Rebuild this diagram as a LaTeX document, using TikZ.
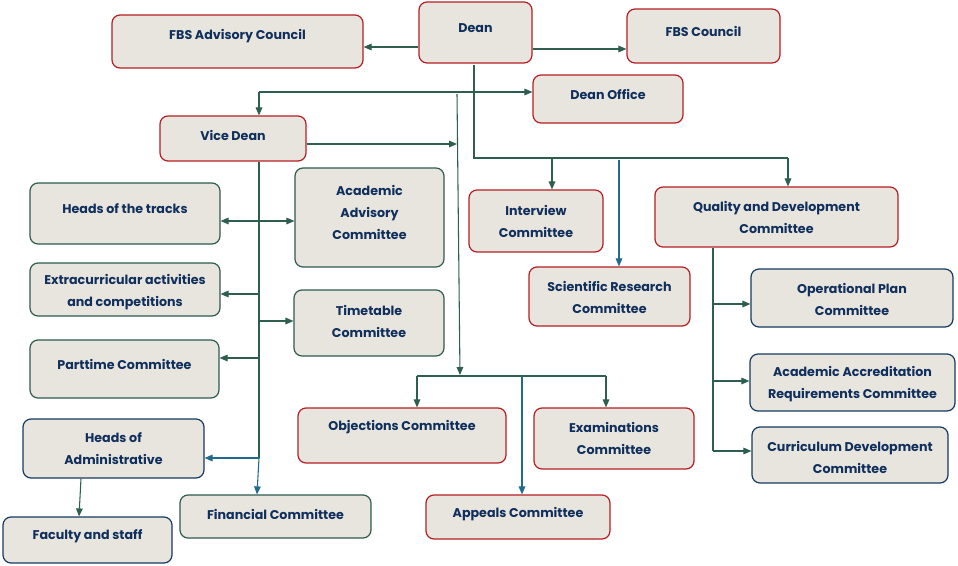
\documentclass[tikz,border=0pt]{standalone}
\usepackage{fontspec}
\setmainfont{Poppins}
\usetikzlibrary{fit,arrows.meta}
\definecolor{boxfill}{HTML}{E8E5DF}
\definecolor{bred}{HTML}{B41E23}
\definecolor{bgreen}{HTML}{2F5C4F}
\definecolor{bnavy}{HTML}{163A63}
\definecolor{tnavy}{HTML}{102F5B}
\definecolor{lgreen}{HTML}{2D5E50}
\definecolor{lblue}{HTML}{1F6B8E}
\tikzset{
  box/.style={draw, fill=boxfill, rounded corners=6pt, line width=0.9pt, inner sep=0pt},
  rbox/.style={box, draw=bred},
  gbox/.style={box, draw=bgreen},
  nbox/.style={box, draw=bnavy},
  txt/.style={text=tnavy, font=\fontsize{9.5}{16.5}\selectfont\bfseries, align=center, inner sep=0pt, yshift=-0.75pt},
  ln/.style={draw=lgreen, line width=0.8pt},
  arr/.style={ln, -{Triangle[length=6pt,width=5pt]}},
  arrtwo/.style={ln, {Triangle[length=6pt,width=5pt]}-{Triangle[length=6pt,width=5pt]}},
  lnb/.style={draw=lblue, line width=0.8pt},
  arrb/.style={lnb, -{Triangle[length=6pt,width=5pt]}},
}
\begin{document}
\begin{tikzpicture}[x=0.75pt,y=-0.75pt]
\useasboundingbox[fill=white] (0,0) rectangle (958,565);
% boxes
\node[rbox, fit={(112,15) (363,68)}] (adv) {};
\node[txt] (advt) at (237.5,35) {FBS Advisory Council};
\node[rbox, fit={(419,2) (532,63)}] (dean) {};
\node[txt] (deant) at (475.5,27) {Dean};
\node[rbox, fit={(627,9) (780,63)}] (fbsc) {};
\node[txt] (fbsct) at (703.5,30) {FBS Council};
\node[rbox, fit={(533,75) (683,123)}] (doff) {};
\node[txt] (dofft) at (608,93) {Dean Office};
\node[rbox, fit={(160,116) (306,161)}] (vice) {};
\node[txt] (vicet) at (233,134) {Vice Dean};
\node[gbox, fit={(30,183) (220,244)}] (tracks) {};
\node[txt] (trackst) at (125,208) {Heads of the tracks};
\node[gbox, fit={(295,168) (444,267)}] (acad) {};
\node[txt] (acadt) at (369.5,211.5) {Academic\\Advisory\\Committee};
\node[gbox, fit={(30,263) (220,316)}] (extra) {};
\node[txt] (extrat) at (125,291) {Extracurricular activities\\and competitions};
\node[gbox, fit={(294,290) (444,356)}] (time) {};
\node[txt] (timet) at (369,320) {Timetable\\Committee};
\node[gbox, fit={(30,340) (219,398)}] (part) {};
\node[txt] (partt) at (124.5,363) {Parttime Committee};
\node[nbox, fit={(23,419) (204,478)}] (hadm) {};
\node[txt] (hadmt) at (113.5,448) {Heads of\\Administrative};
\node[nbox, fit={(3,517) (172,563)}] (fac) {};
\node[txt] (fact) at (87.5,535) {Faculty and staff};
\node[gbox, fit={(180,495) (371,538)}] (fin) {};
\node[txt] (fint) at (275.5,513) {Financial Committee};
\node[rbox, fit={(298,408) (506,463)}] (obj) {};
\node[txt] (objt) at (402,426) {Objections Committee};
\node[rbox, fit={(534,408) (694,469)}] (exam) {};
\node[txt] (examt) at (614,437) {Examinations\\Committee};
\node[rbox, fit={(426,495) (610,539)}] (app) {};
\node[txt] (appt) at (518,513) {Appeals Committee};
\node[rbox, fit={(469,190) (603,252)}] (intv) {};
\node[txt] (intvt) at (536,220) {Interview\\Committee};
\node[rbox, fit={(529,267) (690,326)}] (sci) {};
\node[txt] (scit) at (609.5,296) {Scientific Research\\Committee};
\node[rbox, fit={(655,187) (898,247)}] (qual) {};
\node[txt] (qualt) at (776.5,216) {Quality and Development\\Committee};
\node[nbox, fit={(751,269) (953,327)}] (op) {};
\node[txt] (opt) at (852,298) {Operational Plan\\Committee};
\node[nbox, fit={(750,354) (955,411)}] (acc) {};
\node[txt] (acct) at (852.5,383) {Academic Accreditation\\Requirements Committee};
\node[nbox, fit={(752,427) (948,483)}] (cur) {};
\node[txt] (curt) at (850,456) {Curriculum Development\\Committee};
% junction coordinates
\coordinate (dtrunk) at (474,92);
\coordinate (vtop) at (259,92);
\coordinate (dbot) at (474,158);
\coordinate (qtop) at (788,158);
\coordinate (mtop) at (457,94);
\coordinate (mbot) at (460,375);
\coordinate (hl) at (417,376);
\coordinate (hr) at (606,376);
\coordinate (vbot) at (259,458);
\coordinate (qbot) at (713,451);
% connectors
\draw[arr] (dean.west |- 0,47) -- (adv.east |- 0,47);
\draw[arr] (dean.east |- 0,49) -- (fbsc.west |- 0,49);
\draw[ln] (474,65) -- (dbot) -- (qtop);
\draw[ln] (vtop) -- (dtrunk);
\draw[arr] (dtrunk) -- (doff.west |- dtrunk);
\draw[arr] (vtop) -- (vice.north -| vtop);
\draw[arr] (552,158) -- (intv.north -| 552,0);
\draw[arr] (qtop) -- (qual.north -| qtop);
\draw[arrb] (619,160) -- (sci.north -| 619,0);
\draw[arr] (vice.east |- 0,144) -- (457,144);
\draw[arr] (mtop) -- (mbot);
\draw[ln] (hl) -- (hr);
\draw[arr] (hl) -- (obj.north -| hl);
\draw[arr] (hr) -- (exam.north -| hr);
\draw[arrb] (522,376) -- (app.north -| 522,0);
\draw[ln] (vice.south -| vtop) -- (vbot);
\draw[arrb] (vbot) -- (fin.north -| 257,0);
\draw[arrb] (vbot) -- (hadm.east |- vbot);
\draw[arrtwo] (tracks.east |- 0,221) -- (acad.west |- 0,221);
\draw[arr] (258,294) -- (extra.east |- 0,294);
\draw[arr] (258,321) -- (time.west |- 0,321);
\draw[arr] (258,358) -- (part.east |- 0,358);
\draw[arr] (hadm.south -| 81,0) -- (fac.north -| 79,0);
\draw[ln] (qual.south -| qbot) -- (qbot);
\draw[arr] (713,304) -- (op.west |- 0,304);
\draw[arr] (713,381) -- (acc.west |- 0,381);
\draw[arr] (qbot) -- (cur.west |- qbot);
\end{tikzpicture}
\end{document}
